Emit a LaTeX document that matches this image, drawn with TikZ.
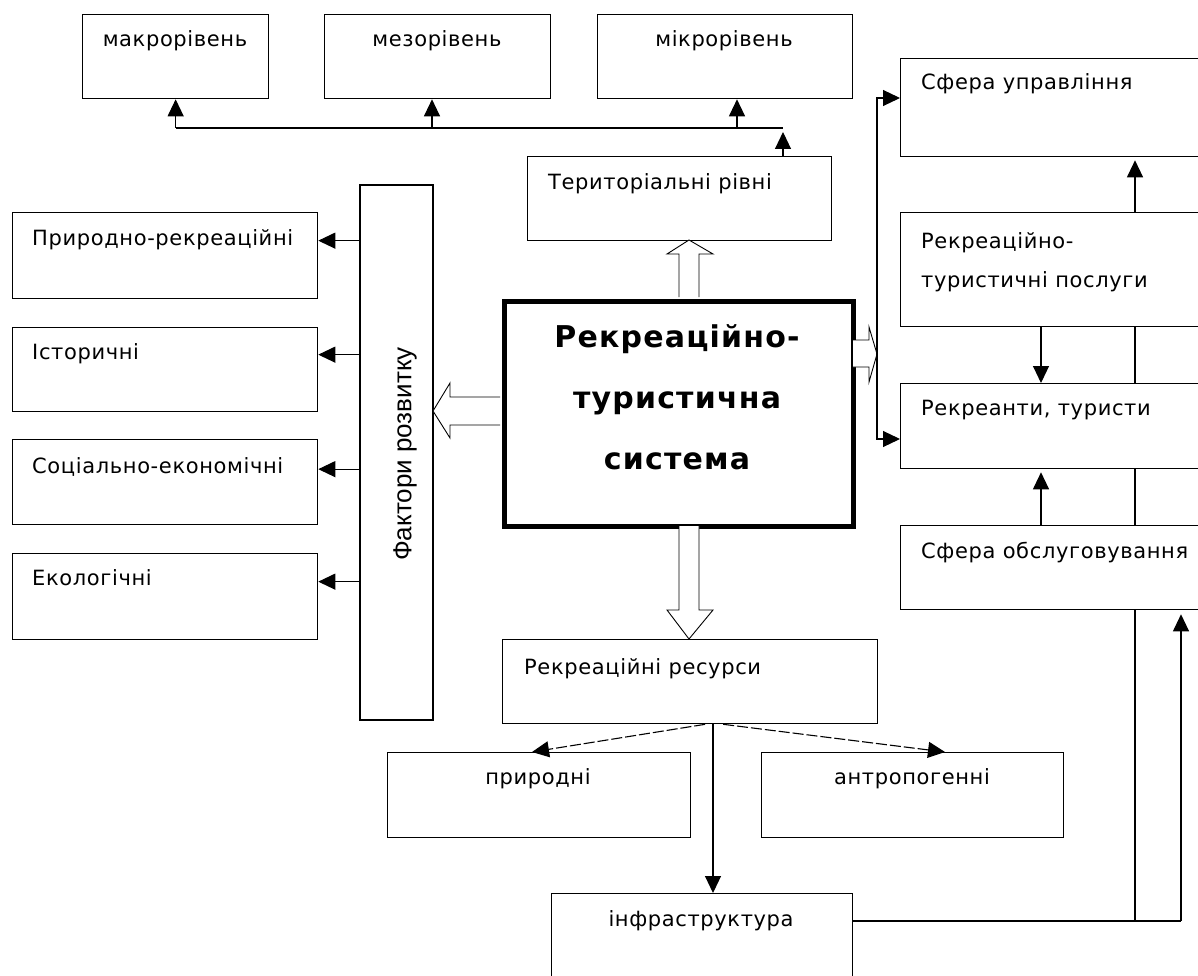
\documentclass[tikz,border=0pt]{standalone}
\usepackage{fontspec}
\setmainfont{DejaVu Sans}[LetterSpace=3]
\newfontfamily\boldfont{DejaVu Sans Bold}[LetterSpace=4]
\newfontfamily\fakfont{Liberation Sans}
\usetikzlibrary{arrows.meta,calc}
\begin{document}
\begin{tikzpicture}[x=1pt,y=-1pt,
  box/.style={draw, line width=1.3pt, fill=white, rectangle, inner sep=0pt, anchor=north west},
  lbl/.style={inner sep=0pt, font=\fontsize{21}{26}\selectfont},
  ln/.style={line width=1.1pt},
  arr/.style={line width=1.1pt, -{Triangle[length=17pt,width=16pt]}},
  darr/.style={arr, dash pattern=on 11pt off 3pt},
  hollow/.style={draw, line width=0.9pt, fill=white, line join=miter},
]
\useasboundingbox (0,0) rectangle (1198,976);
\clip (0,0) rectangle (1198,976);
\fill[white] (0,0) rectangle (1198,976);

% boxes
\node[box, minimum width=186, minimum height=84] (makro) at (82,14) {};
\node[box, minimum width=226, minimum height=84] (mezo) at (324,14) {};
\node[box, minimum width=255, minimum height=84] (mikro) at (597,14) {};
\node[box, minimum width=304, minimum height=84] (terit) at (527,156) {};
\node[box, minimum width=349, minimum height=225, line width=4.5pt] (main) at (502,299) {};
\node[box, minimum width=73, minimum height=535, line width=2pt] (faktory) at (359,184) {};
\node[box, minimum width=305, minimum height=86] (pryr) at (12,212) {};
\node[box, minimum width=305, minimum height=84] (istor) at (12,327) {};
\node[box, minimum width=305, minimum height=85] (soc) at (12,439) {};
\node[box, minimum width=305, minimum height=86] (ekol) at (12,553) {};
\node[box, minimum width=330, minimum height=98] (upr) at (900,58) {};
\node[box, minimum width=330, minimum height=114] (poslugy) at (900,212) {};
\node[box, minimum width=330, minimum height=85] (rekreanty) at (900,383) {};
\node[box, minimum width=330, minimum height=84] (obsl) at (900,525) {};
\node[box, minimum width=375, minimum height=84] (resursy) at (502,639) {};
\node[box, minimum width=303, minimum height=85] (pryrodni) at (387,752) {};
\node[box, minimum width=302, minimum height=85] (antrop) at (761,752) {};
\node[box, minimum width=301, minimum height=90] (infra) at (551,893) {};

% texts
\node[lbl, anchor=base] (makro-t) at (175,47) {макрорівень};
\node[lbl, anchor=base] (mezo-t) at (437,47) {мезорівень};
\node[lbl, anchor=base] (mikro-t) at (724,47) {мікрорівень};
\node[lbl, anchor=base west] (terit-t) at (548,190) {Територіальні рівні};
\node[lbl, anchor=base west] (pryr-t) at (32,245) {Природно-рекреаційні};
\node[lbl, anchor=base west] (istor-t) at (32,359) {Історичні};
\node[lbl, anchor=base west] (soc-t) at (32,473) {Соціально-економічні};
\node[lbl, anchor=base west] (ekol-t) at (32,585) {Екологічні};
\node[lbl, anchor=base west] (upr-t) at (921,90) {Сфера управління};
\node[lbl, anchor=north west, align=left, font=\fontsize{21}{39}\selectfont] (poslugy-t) at (921,232) {Рекреаційно-\\туристичні послуги};
\node[lbl, anchor=base west] (rekreanty-t) at (921,415) {Рекреанти, туристи};
\node[lbl, anchor=base west] (obsl-t) at (921,558) {Сфера обслуговування};
\node[lbl, anchor=base west] (resursy-t) at (524,674) {Рекреаційні ресурси};
\node[lbl, anchor=base] (pryrodni-t) at (538,784) {природні};
\node[lbl, anchor=base] (antrop-t) at (912,784) {антропогенні};
\node[lbl, anchor=base] (infra-t) at (701,926) {інфраструктура};
\node[inner sep=0pt, anchor=north, align=center, font=\boldfont\fontsize{30}{61}\selectfont] (main-t) at (677,324) {Рекреаційно-\\туристична\\система};
\node[inner sep=0pt, rotate=90, font=\fakfont\fontsize{26}{30}\selectfont] (faktory-t) at (405,454) {Фактори розвитку};

% hollow block arrows
\draw[hollow] (679,297) -- (679,254) -- (667,254) -- (689,240) -- (713,254) -- (699,254) -- (699,297);
\draw[hollow] (679,526) -- (679,610) -- (667,610) -- (689,639) -- (713,610) -- (699,610) -- (699,526);
\draw[hollow] (500,397) -- (450,397) -- (450,383) -- (433,411) -- (450,438) -- (450,425) -- (500,425);
\draw[hollow] (853,340) -- (869,340) -- (869,327) -- (877,354) -- (869,382) -- (869,367) -- (853,367);

% territorial levels
\coordinate (hub) at (783,128);
\draw[arr] (terit.north -| hub) -- ([yshift=-4pt]hub);
\draw[ln] (makro.south |- hub) -- (hub);
\draw[arr] (makro.south |- hub) -- (makro.south);
\draw[arr] (432,128) -- (mezo.south -| 432,0);
\draw[arr] (737,128) -- (mikro.south -| 737,0);

% factors
\path ([yshift=15pt]pryr.east) coordinate (pe1);
\path ([yshift=15pt]istor.east) coordinate (pe2);
\path ([yshift=13pt]soc.east) coordinate (pe3);
\path ([yshift=15pt]ekol.east) coordinate (pe4);
\draw[arr] (faktory.west |- pe1) -- (pe1);
\draw[arr] (faktory.west |- pe2) -- (pe2);
\draw[arr] (faktory.west |- pe3) -- (pe3);
\draw[arr] (faktory.west |- pe4) -- (pe4);

% right side
\coordinate (vr) at (877,354);
\draw[arr] (vr) |- (upr.west |- 0,98);
\draw[arr] (vr) |- (rekreanty.west |- 0,439);
\coordinate (c1) at (1135,921);
\coordinate (c2) at (1181,921);
\draw[ln] (infra.east |- c1) -- (c2);
\draw[arr] (c2) -- ([yshift=-4pt]obsl.south -| c2);
\draw[ln] (c1) -- (obsl.south -| c1);
\draw[ln] (obsl.north -| c1) -- (rekreanty.south -| c1);
\draw[ln] (rekreanty.north -| c1) -- (poslugy.south -| c1);
\draw[arr] (poslugy.north -| c1) -- ([yshift=-3pt]upr.south -| c1);
\draw[arr] (poslugy.south -| 1041,0) -- (rekreanty.north -| 1041,0);
\draw[arr] (obsl.north -| 1041,0) -- ([yshift=-3pt]rekreanty.south -| 1041,0);

% resources
\draw[arr] (resursy.south -| 713,0) -- (infra.north -| 713,0);
\draw[darr] ([xshift=15pt]resursy.south) -- (pryrodni.north -| 532,0);
\draw[darr] ([xshift=33pt]resursy.south) -- (antrop.north -| 945,0);
\end{tikzpicture}
\end{document}
